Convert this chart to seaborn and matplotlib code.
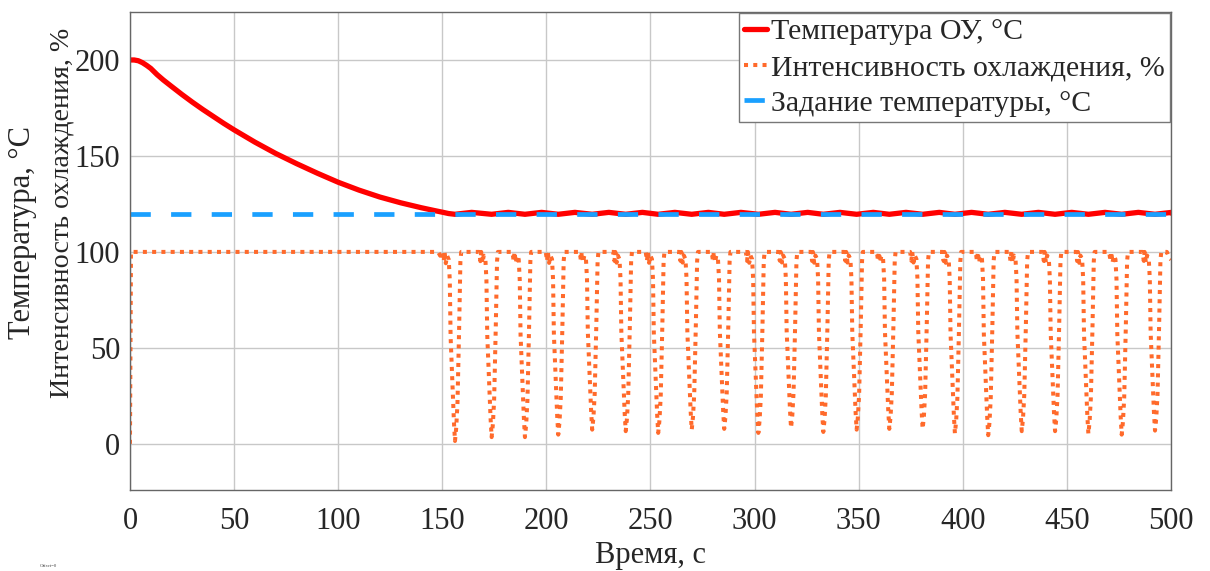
import numpy as np
import pandas as pd
import matplotlib
matplotlib.use("Agg")
import matplotlib.pyplot as plt
import seaborn as sns

# ---------------- data ----------------
# Temperature of the object during the initial cool-down (s, °C)
temp_t = [0, 2, 4, 6, 8, 10, 13, 16, 20, 25, 30, 35, 40, 45, 50, 60, 70, 80,
          90, 100, 110, 120, 130, 140, 146, 150, 153]
temp_v = [200, 200, 199.6, 198.6, 197.2, 195.6, 192.4, 189.6, 186.2, 182.0,
          178.0, 174.2, 170.6, 167.0, 163.6, 157.2, 151.3, 146.0, 141.0, 136.3,
          132.2, 128.6, 125.6, 123.0, 121.6, 120.7, 120.0]
# small oscillation of the temperature during regulation (°C)
temp_osc_low = 119.6
temp_osc_high = 120.6

# Set-point
setpoint_t = [0, 500]
setpoint_v = [120, 120]

# Cooling intensity: initial step and flat part
cool_start_t = [0, 0.5, 145, 148, 149, 150]
cool_start_v = [0, 100, 100, 100, 98, 100]
# times of the cooling dips (s) and their minimum values (%)
dip_times = [156.1, 173.7, 189.7, 205.7, 222.0, 238.1, 253.7, 269.8, 285.4,
             301.8, 317.5, 333.0, 349.0, 364.7, 380.7, 396.2, 412.2, 428.3,
             444.3, 460.3, 476.3, 492.3]
dip_min = [1.5, 3.5, 3.5, 4.8, 7.4, 6.6, 5.7, 7.4, 7.8, 5.7, 8.3, 6.2, 7.4,
           7.8, 7.8, 5.4, 4.5, 6.6, 6.6, 5.2, 4.8, 6.9]
# shape of one dip: time offset from minimum and fraction of dip depth
dip_shape_dt = [-6.0, -5.4, -5.0, -4.4, -3.8, -3.0, -2.5, -2.1, -1.2, -0.5,
                0.0, 0.6, 1.2, 2.0, 2.6, 3.0]
dip_shape_f = [0.0, 0.05, 0.0, 0.06, 0.02, 0.04, 0.15, 0.45, 0.7, 0.9,
               1.0, 0.93, 0.8, 0.4, 0.05, 0.0]
cool_end_t = [498, 499, 500]
cool_end_v = [100, 97, 96]

xticks = [0, 50, 100, 150, 200, 250, 300, 350, 400, 450, 500]
yticks = [0, 50, 100, 150, 200]

labels = ["Температура ОУ, °C", "Интенсивность охлаждения, %",
          "Задание температуры, °C"]
xlabel = "Время, с"
ylabel1 = "Температура, °C"
ylabel2 = "Интенсивность охлаждения, %"

# ---------------- build series ----------------
tt = list(temp_t)
tv = list(temp_v)
for td in dip_times:
    tt += [td, td + 8]
    tv += [temp_osc_low, temp_osc_high]
tt.append(500)
tv.append(120.3)
df_temp = pd.DataFrame({"t": tt, "v": tv})

ct = list(cool_start_t)
cv = list(cool_start_v)
for td, dm in zip(dip_times, dip_min):
    for dt, f in zip(dip_shape_dt, dip_shape_f):
        ct.append(td + dt)
        cv.append(100 - (100 - dm) * f)
ct += cool_end_t
cv += cool_end_v
df_cool = pd.DataFrame({"t": ct, "v": cv})

df_set = pd.DataFrame({"t": setpoint_t, "v": setpoint_v})

# ---------------- plot ----------------
sns.set_theme(style="white")
plt.rcParams["font.family"] = ["Liberation Serif", "DejaVu Serif"]

fig = plt.figure(figsize=(12.1, 5.71), dpi=100)
ax = fig.add_axes([0.1074, 0.142, 0.8604, 0.837])

red = "#FF0000"
orange = "#FF6A2B"
blue = "#1AA0FF"

sns.lineplot(data=df_temp, x="t", y="v", ax=ax, color=red, lw=3.8,
             sort=False, estimator=None, label=labels[0])
sns.lineplot(data=df_cool, x="t", y="v", ax=ax, color=orange, lw=2.9,
             sort=False, estimator=None, label=labels[1])
sns.lineplot(data=df_set, x="t", y="v", ax=ax, color=blue, lw=3.4,
             sort=False, estimator=None, label=labels[2])

ax.lines[1].set_dashes([1.0, 1.3])
ax.lines[1].set_dash_capstyle("butt")
ax.lines[2].set_dashes([4.3, 4.3])
ax.lines[2].set_dash_capstyle("butt")

ax.set_xlim(0, 500)
ax.set_ylim(-24, 225)
ax.set_xticks(xticks)
ax.set_yticks(yticks)
ax.grid(True, color="#c8c8c8", lw=1.0)
ax.set_axisbelow(True)
for s in ax.spines.values():
    s.set_color("#666666")
    s.set_linewidth(1.0)
ax.tick_params(axis="x", labelsize=22, pad=12, length=0)
ax.tick_params(axis="y", labelsize=22, pad=7, length=0)
ax.set_xlabel(xlabel, fontsize=22, labelpad=4)
ax.set_ylabel("")

fig.text(23 / 1210, 1 - 233 / 571, ylabel1, rotation=90, fontsize=22,
         ha="center", va="center")
fig.text(62 / 1210, 1 - 213 / 571, ylabel2, rotation=90, fontsize=20.2,
         ha="center", va="center")
fig.text(40 / 1210, 1 - 566 / 571, "Offset=0", fontsize=3.5,
         ha="left", va="center", color="#444444")

leg = ax.legend(loc="upper right", bbox_to_anchor=(1.0, 1.0),
                fontsize=21.5, frameon=True, fancybox=False, framealpha=1,
                edgecolor="#777777", borderaxespad=0.05, borderpad=0.16,
                labelspacing=0.3, handlelength=0.8, handletextpad=0.12)
leg.get_frame().set_linewidth(1.0)

fig.savefig("out.png", dpi=100)
